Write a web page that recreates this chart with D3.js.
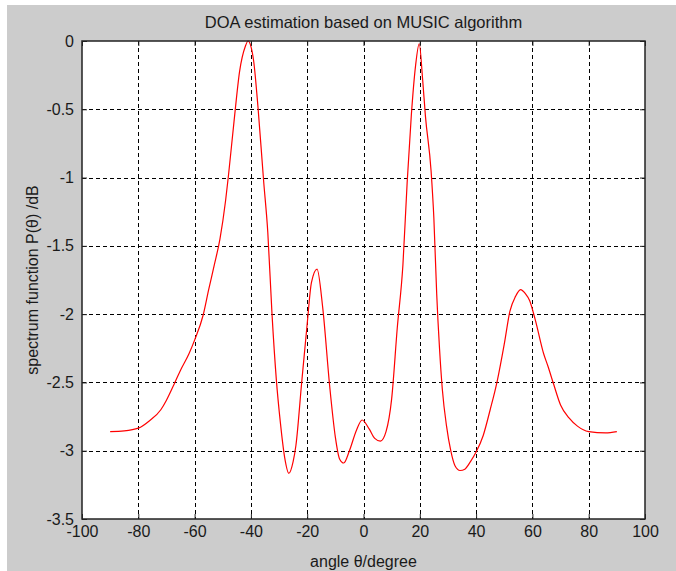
<!DOCTYPE html>
<html>
<head>
<meta charset="utf-8">
<script src="https://cdn.jsdelivr.net/npm/d3@7"></script>
<style>
  body { margin: 0; background: #ffffff; }
  text { font-family: "Liberation Sans", Arial, sans-serif; fill: #1a1a1a; }
</style>
</head>
<body>
<div id="chart"></div>
<script>
// spectrum (angle in degrees, P in dB)
const angles = [-90, -85, -80, -76, -72, -70, -67, -65, -62, -60, -57, -55, -53, -51, -49, -48,
    -46, -44, -42, -41, -40, -39, -37.5, -35.5, -34, -32.5, -31, -29.5, -28, -26.5, -25, -24,
    -22, -20, -18.5, -16.5, -14.5, -12, -10, -8.5, -7, -5, -2.5, -0.5, 2, 4, 6, 8,
    10, 12, 14, 15.5, 17, 18.5, 19.8, 21, 22, 24, 25, 26, 27, 28, 29.5, 31, 32.5, 34.3,
    36, 38, 40, 42.5, 45, 47.5, 50, 52, 54, 55.8, 57.5, 59, 61, 64, 65.5, 67.5,
    70, 73, 76, 80, 86, 90];
const spectrum = [-2.86, -2.855, -2.835, -2.78, -2.70, -2.63, -2.50, -2.41, -2.29, -2.19, -2.01, -1.82, -1.64, -1.45, -1.17, -0.99,
    -0.59, -0.22, -0.04, 0, -0.04, -0.15, -0.48, -1.02, -1.40, -2.0, -2.47, -2.80, -3.05, -3.165, -3.08, -2.96,
    -2.51, -2.07, -1.77, -1.67, -1.95, -2.53, -2.90, -3.06, -3.09, -3.0, -2.85, -2.775, -2.84, -2.91, -2.93, -2.86,
    -2.62, -2.10, -1.64, -1.04, -0.54, -0.18, -0.02, -0.28, -0.55, -0.95, -1.3, -1.85, -2.25, -2.55, -2.82, -3.0, -3.11, -3.145,
    -3.135, -3.08, -3.01, -2.89, -2.70, -2.49, -2.22, -1.98, -1.87, -1.82, -1.85, -1.90, -2.04, -2.29, -2.38, -2.51,
    -2.665, -2.76, -2.82, -2.86, -2.87, -2.86];

const xTicks = [-100, -80, -60, -40, -20, 0, 20, 40, 60, 80, 100];
const yTicks = [-3.5, -3, -2.5, -2, -1.5, -1, -0.5, 0];

const width = 676, height = 571;
const plotLeft = 82, plotRight = 645, plotTop = 41, plotBottom = 519;

const svg = d3.select("#chart")
    .append("svg")
    .attr("width", width)
    .attr("height", height);

// grey figure background
svg.append("rect")
    .attr("x", 7)
    .attr("y", 5)
    .attr("width", width - 7)
    .attr("height", height - 5)
    .attr("fill", "#cccccc");

const x = d3.scaleLinear().domain([-100, 100]).range([plotLeft, plotRight]);
const y = d3.scaleLinear().domain([-3.5, 0]).range([plotBottom, plotTop]);

svg.append("rect")
    .attr("x", plotLeft)
    .attr("y", plotTop)
    .attr("width", plotRight - plotLeft)
    .attr("height", plotBottom - plotTop)
    .attr("fill", "#ffffff");

// dashed grid
svg.selectAll("line.vgrid")
    .data(xTicks.slice(1, -1))
    .enter()
    .append("line")
    .attr("class", "vgrid")
    .attr("x1", d => Math.round(x(d)) + 0.5)
    .attr("x2", d => Math.round(x(d)) + 0.5)
    .attr("y1", plotTop)
    .attr("y2", plotBottom)
    .attr("stroke", "#000")
    .attr("stroke-dasharray", "4,3");

svg.selectAll("line.hgrid")
    .data(yTicks.slice(1, -1))
    .enter()
    .append("line")
    .attr("class", "hgrid")
    .attr("x1", plotLeft)
    .attr("x2", plotRight)
    .attr("y1", d => Math.round(y(d)) + 0.5)
    .attr("y2", d => Math.round(y(d)) + 0.5)
    .attr("stroke", "#000")
    .attr("stroke-dasharray", "4,3");

// spectrum curve
const line = d3.line()
    .x((d, i) => x(angles[i]))
    .y(d => y(d))
    .curve(d3.curveMonotoneX);

svg.append("path")
    .datum(spectrum)
    .attr("d", line)
    .attr("fill", "none")
    .attr("stroke", "#ff0000")
    .attr("stroke-width", 1.2);

// axes with inward ticks, plain hyphen minus like the original
const fontSize = 16;
const fmt = d => String(d);
svg.append("g")
    .attr("transform", `translate(0,${plotBottom})`)
    .call(d3.axisBottom(x).tickValues(xTicks).tickSize(-5).tickPadding(7).tickFormat(fmt))
    .call(g => g.select(".domain").remove())
    .call(g => g.selectAll("text").attr("font-size", fontSize).attr("fill", "#1a1a1a"));

svg.append("g")
    .attr("transform", `translate(0,${plotTop})`)
    .call(d3.axisTop(x).tickValues(xTicks).tickSize(-5).tickFormat(""))
    .call(g => g.select(".domain").remove());

svg.append("g")
    .attr("transform", `translate(${plotLeft},0)`)
    .call(d3.axisLeft(y).tickValues(yTicks).tickSize(-5).tickPadding(8).tickFormat(fmt))
    .call(g => g.select(".domain").remove())
    .call(g => g.selectAll("text").attr("font-size", fontSize).attr("fill", "#1a1a1a"));

svg.append("g")
    .attr("transform", `translate(${plotRight},0)`)
    .call(d3.axisRight(y).tickValues(yTicks).tickSize(-5).tickFormat(""))
    .call(g => g.select(".domain").remove());

svg.selectAll(".tick line").attr("stroke", "#222");

svg.append("rect")
    .attr("x", plotLeft)
    .attr("y", plotTop)
    .attr("width", plotRight - plotLeft)
    .attr("height", plotBottom - plotTop)
    .attr("fill", "none")
    .attr("stroke", "#222")
    .attr("stroke-width", 1.5);

// labels
svg.append("text")
    .attr("x", (plotLeft + plotRight) / 2)
    .attr("y", 28)
    .attr("text-anchor", "middle")
    .attr("font-size", 16.5)
    .text("DOA estimation based on MUSIC algorithm");

svg.append("text")
    .attr("x", (plotLeft + plotRight) / 2)
    .attr("y", 567)
    .attr("text-anchor", "middle")
    .attr("font-size", fontSize)
    .text("angle θ/degree");

svg.append("text")
    .attr("transform", `translate(38,${(plotTop + plotBottom) / 2}) rotate(-90)`)
    .attr("text-anchor", "middle")
    .attr("font-size", fontSize)
    .text("spectrum function P(θ) /dB");
</script>
</body>
</html>
